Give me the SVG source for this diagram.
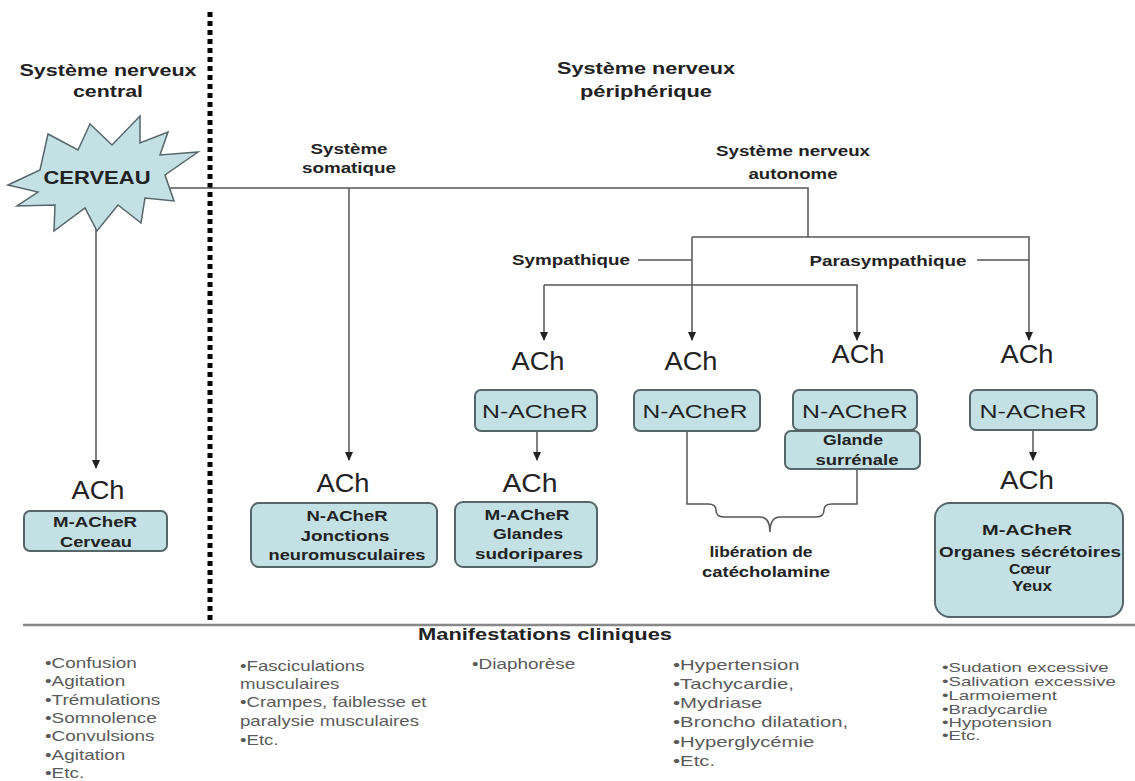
<svg xmlns="http://www.w3.org/2000/svg" width="1135" height="781" viewBox="0 0 1135 781">
<style>
.lbl{font-family:"Liberation Sans",Arial,sans-serif;font-weight:bold;fill:#222;text-anchor:middle}
.t17{font-size:17px}
.t14{font-size:14px}
.ach{font-family:"Liberation Sans",Arial,sans-serif;font-size:26px;fill:#222;text-anchor:middle}
.nr{font-family:"Liberation Sans",Arial,sans-serif;font-size:18px;fill:#222;text-anchor:middle}
.box{fill:#c3e1e5;stroke:#56656a;stroke-width:2}
.conn{fill:none;stroke:#555;stroke-width:1.5}
.list{font-family:"Liberation Sans",Arial,sans-serif;font-size:14px;fill:#5a5a5a}
.list13{font-family:"Liberation Sans",Arial,sans-serif;font-size:13px;fill:#5a5a5a}
</style>
<defs>
<marker id="ah" markerUnits="userSpaceOnUse" markerWidth="9" markerHeight="8" refX="8" refY="4" orient="auto" viewBox="0 0 9 8">
<path d="M0,0 L9,4 L0,8 Z" fill="#222"/>
</marker>
</defs>
<rect width="1135" height="781" fill="#fff"/>

<!-- divider and bottom rule -->
<line x1="210" y1="12" x2="210" y2="622" stroke="#000" stroke-width="5" stroke-dasharray="5 4"/>
<line x1="23" y1="625" x2="1135" y2="625" stroke="#888" stroke-width="2.5"/>

<!-- headers -->
<g id="hdr-central">
<text class="lbl t17" x="108" y="76" textLength="177" lengthAdjust="spacingAndGlyphs">Système nerveux</text>
<text class="lbl t17" x="108" y="97" textLength="70" lengthAdjust="spacingAndGlyphs">central</text>
</g>
<g id="hdr-peripherique">
<text class="lbl t17" x="646" y="74" textLength="178" lengthAdjust="spacingAndGlyphs">Système nerveux</text>
<text class="lbl t17" x="646" y="97" textLength="132" lengthAdjust="spacingAndGlyphs">périphérique</text>
</g>

<g id="connectors">
<path class="conn" d="M160,188 H808 V237"/>
<path class="conn" d="M349,188 V460" marker-end="url(#ah)"/>
<path class="conn" d="M96,226 V468" marker-end="url(#ah)"/>
<path class="conn" d="M692,237 H1029 V340" marker-end="url(#ah)"/>
<path class="conn" d="M692,237 V340" marker-end="url(#ah)"/>
<path class="conn" d="M544,285 H857 V340" marker-end="url(#ah)"/>
<path class="conn" d="M544,285 V340" marker-end="url(#ah)"/>
<path class="conn" d="M638,260 H692"/>
<path class="conn" d="M977,260 H1029"/>
<path class="conn" d="M537,431 V460" marker-end="url(#ah)"/>
<path class="conn" d="M1033,430 V460" marker-end="url(#ah)"/>
<path class="conn" d="M687,431 V504 H708 Q716,504 716,510 Q716,517 724,517 H760 Q770,517 770,532 Q770,517 780,517 H816 Q824,517 824,510 Q824,504 832,504 H857 V469"/>
</g>

<g id="cerveau">
<polygon points="8,185 40,170 48,134 78,150 90,124 112,145 140,116 140,143 168,132 160,155 198,152 165,175 174,201 145,198 141,223 118,205 97,231 85,208 54,231 55,205 17,206 38,192" fill="#c3e1e5" stroke="#56656a" stroke-width="1.5"/>
<text class="lbl" x="97" y="184" font-size="19" textLength="107" lengthAdjust="spacingAndGlyphs">CERVEAU</text>
</g>

<g id="somatique">
<text class="lbl t14" x="349" y="154" textLength="77" lengthAdjust="spacingAndGlyphs">Système</text>
<text class="lbl t14" x="349" y="173" textLength="94" lengthAdjust="spacingAndGlyphs">somatique</text>
</g>
<g id="autonome">
<text class="lbl t14" x="793" y="156" textLength="154" lengthAdjust="spacingAndGlyphs">Système nerveux</text>
<text class="lbl t14" x="793" y="179" textLength="89" lengthAdjust="spacingAndGlyphs">autonome</text>
</g>
<g id="sympathique">
<text class="lbl t14" x="571" y="265" textLength="118" lengthAdjust="spacingAndGlyphs">Sympathique</text>
</g>
<g id="parasympathique">
<text class="lbl t14" x="888" y="266" textLength="157" lengthAdjust="spacingAndGlyphs">Parasympathique</text>
</g>

<!-- ACh labels -->
<g id="ach-cerveau"><text class="ach" x="98" y="499" textLength="53" lengthAdjust="spacingAndGlyphs">ACh</text></g>
<g id="ach-soma"><text class="ach" x="343" y="492" textLength="53" lengthAdjust="spacingAndGlyphs">ACh</text></g>
<g id="ach-s1"><text class="ach" x="538" y="370" textLength="53" lengthAdjust="spacingAndGlyphs">ACh</text></g>
<g id="ach-s2"><text class="ach" x="691" y="370" textLength="53" lengthAdjust="spacingAndGlyphs">ACh</text></g>
<g id="ach-s3"><text class="ach" x="858" y="363" textLength="53" lengthAdjust="spacingAndGlyphs">ACh</text></g>
<g id="ach-p1"><text class="ach" x="1027" y="363" textLength="53" lengthAdjust="spacingAndGlyphs">ACh</text></g>
<g id="ach-s1b"><text class="ach" x="530" y="492" textLength="55" lengthAdjust="spacingAndGlyphs">ACh</text></g>
<g id="ach-p1b"><text class="ach" x="1027" y="489" textLength="54" lengthAdjust="spacingAndGlyphs">ACh</text></g>

<!-- boxes -->
<g id="box-m-cerveau">
<rect class="box" x="24" y="511" width="143" height="40" rx="6"/>
<text class="lbl" font-size="15" x="95" y="527" textLength="84" lengthAdjust="spacingAndGlyphs">M-ACheR</text>
<text class="lbl" font-size="15" x="96" y="547" textLength="72" lengthAdjust="spacingAndGlyphs">Cerveau</text>
</g>
<g id="box-jonctions">
<rect class="box" x="251" y="503" width="186" height="64" rx="8"/>
<text class="lbl" font-size="15" x="347" y="521" textLength="81" lengthAdjust="spacingAndGlyphs">N-ACheR</text>
<text class="lbl" font-size="15" x="345" y="541" textLength="89" lengthAdjust="spacingAndGlyphs">Jonctions</text>
<text class="lbl" font-size="15" x="347" y="560" textLength="157" lengthAdjust="spacingAndGlyphs">neuromusculaires</text>
</g>
<g id="box-n1">
<rect class="box" x="475" y="390" width="122" height="41" rx="6"/>
<text class="nr" x="535" y="418" textLength="106" lengthAdjust="spacingAndGlyphs">N-ACheR</text>
</g>
<g id="box-n2">
<rect class="box" x="634" y="390" width="126" height="41" rx="6"/>
<text class="nr" x="695" y="418" textLength="105" lengthAdjust="spacingAndGlyphs">N-ACheR</text>
</g>
<g id="box-n3">
<rect class="box" x="793" y="390" width="124" height="40" rx="6"/>
<text class="nr" x="855" y="418" textLength="106" lengthAdjust="spacingAndGlyphs">N-ACheR</text>
</g>
<g id="box-surrenale">
<rect class="box" x="785" y="431" width="135" height="38" rx="6"/>
<text class="lbl" font-size="14" x="853" y="445" textLength="60" lengthAdjust="spacingAndGlyphs">Glande</text>
<text class="lbl" font-size="14" x="857" y="465" textLength="83" lengthAdjust="spacingAndGlyphs">surrénale</text>
</g>
<g id="box-n4">
<rect class="box" x="970" y="390" width="127" height="40" rx="6"/>
<text class="nr" x="1033" y="418" textLength="107" lengthAdjust="spacingAndGlyphs">N-ACheR</text>
</g>
<g id="box-sudoripares">
<rect class="box" x="455" y="502" width="142" height="65" rx="8"/>
<text class="lbl" font-size="15" x="527" y="520" textLength="85" lengthAdjust="spacingAndGlyphs">M-ACheR</text>
<text class="lbl" font-size="15" x="528" y="539" textLength="70" lengthAdjust="spacingAndGlyphs">Glandes</text>
<text class="lbl" font-size="15" x="529" y="559" textLength="108" lengthAdjust="spacingAndGlyphs">sudoripares</text>
</g>
<g id="box-organes">
<rect class="box" x="935" y="503" width="188" height="114" rx="15"/>
<text class="lbl" font-size="15" x="1027" y="535" textLength="90" lengthAdjust="spacingAndGlyphs">M-ACheR</text>
<text class="lbl" font-size="15" x="1030" y="557" textLength="182" lengthAdjust="spacingAndGlyphs">Organes sécrétoires</text>
<text class="lbl" font-size="15" x="1030" y="574" textLength="42" lengthAdjust="spacingAndGlyphs">Cœur</text>
<text class="lbl" font-size="15" x="1032" y="591" textLength="40" lengthAdjust="spacingAndGlyphs">Yeux</text>
</g>
<g id="catecholamine">
<text class="lbl t14" x="761" y="557" textLength="103" lengthAdjust="spacingAndGlyphs">libération de</text>
<text class="lbl t14" x="766" y="577" textLength="128" lengthAdjust="spacingAndGlyphs">catécholamine</text>
</g>

<g id="manifestations">
<text class="lbl t17" x="545" y="640" textLength="254" lengthAdjust="spacingAndGlyphs">Manifestations cliniques</text>
</g>

<g id="list-1" transform="translate(45,0) scale(1.35,1)">
<text class="list" x="0" y="668">•Confusion</text>
<text class="list" x="0" y="686">•Agitation</text>
<text class="list" x="0" y="705">•Trémulations</text>
<text class="list" x="0" y="723">•Somnolence</text>
<text class="list" x="0" y="741">•Convulsions</text>
<text class="list" x="0" y="760">•Agitation</text>
<text class="list" x="0" y="778">•Etc.</text>
</g>
<g id="list-2" transform="translate(240,0) scale(1.33,1)">
<text class="list" x="0" y="671">•Fasciculations</text>
<text class="list" x="0" y="689">musculaires</text>
<text class="list" x="0" y="707">•Crampes, faiblesse et</text>
<text class="list" x="0" y="726">paralysie musculaires</text>
<text class="list" x="0" y="745">•Etc.</text>
</g>
<g id="list-3" transform="translate(472,0) scale(1.35,1)">
<text class="list" x="0" y="669">•Diaphorèse</text>
</g>
<g id="list-4" transform="translate(673,0) scale(1.45,1)">
<text class="list" x="0" y="670">•Hypertension</text>
<text class="list" x="0" y="689">•Tachycardie,</text>
<text class="list" x="0" y="708">•Mydriase</text>
<text class="list" x="0" y="727">•Broncho dilatation,</text>
<text class="list" x="0" y="747">•Hyperglycémie</text>
<text class="list" x="0" y="766">•Etc.</text>
</g>
<g id="list-5" transform="translate(942,0) scale(1.43,1)">
<text class="list13" x="0" y="672">•Sudation excessive</text>
<text class="list13" x="0" y="686">•Salivation excessive</text>
<text class="list13" x="0" y="700">•Larmoiement</text>
<text class="list13" x="0" y="714">•Bradycardie</text>
<text class="list13" x="0" y="727">•Hypotension</text>
<text class="list13" x="0" y="740">•Etc.</text>
</g>
</svg>
